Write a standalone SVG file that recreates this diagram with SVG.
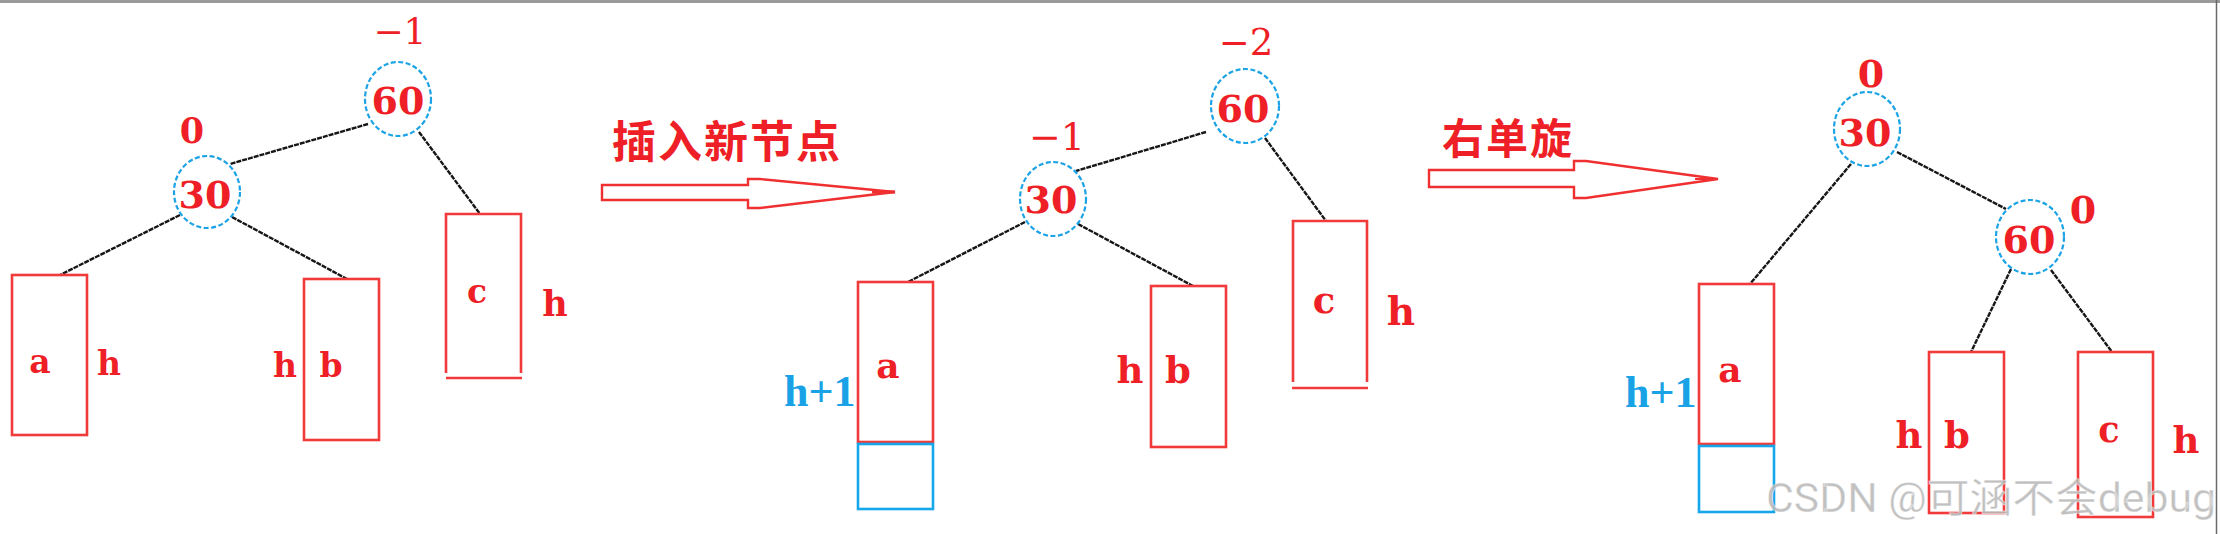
<svg xmlns="http://www.w3.org/2000/svg" width="2220" height="534" viewBox="0 0 2220 534">
<style>
.bg{fill:#ffffff}
.border{stroke:#9a9a9a;stroke-width:3;fill:none}
.ell{fill:none;stroke:#1ba3e6;stroke-width:2.2;stroke-dasharray:5 2.5}
.box{fill:none;stroke:#f23a3a;stroke-width:2.6}
.bbox{fill:none;stroke:#16a6ea;stroke-width:2.6}
.edge{stroke:#161616;stroke-width:2.4;stroke-dasharray:5 1;fill:none}
.num{font-family:"DejaVu Serif","Liberation Serif",serif;font-weight:bold;fill:#ee1f26;text-anchor:middle}
.bf{font-family:"DejaVu Serif","Liberation Serif",serif;fill:#ee1f26;text-anchor:middle}
.lbl{font-family:"DejaVu Serif","Liberation Serif",serif;font-weight:bold;fill:#ee1f26;text-anchor:middle}
.blu{font-family:"Liberation Serif","DejaVu Serif",serif;font-weight:bold;fill:#19a2e6}
.cjk{font-family:"Noto Sans CJK SC","Noto Sans",sans-serif;font-weight:bold;fill:#ee1f26}
.arrow{fill:#ffffff;stroke:#f03030;stroke-width:2.4;stroke-linejoin:miter}
.wm{font-family:Roboto,"Noto Sans CJK SC",sans-serif;fill:#b9b9b9;fill-opacity:0.9;stroke:#ffffff;stroke-opacity:0.5;stroke-width:0.8}
</style>
<rect class="bg" x="0" y="0" width="2220" height="534"/>
<line class="border" x1="0" y1="1.5" x2="2220" y2="1.5"/>
<line x1="2216.5" y1="0" x2="2216.5" y2="534" stroke="#6a6a6a" stroke-width="1.5"/>

<g id="connectors">
  <line class="edge" x1="368" y1="124" x2="230" y2="164"/>
  <line class="edge" x1="180" y1="215" x2="60" y2="275"/>
  <line class="edge" x1="232" y1="217" x2="347" y2="279"/>
  <line class="edge" x1="419" y1="132" x2="480" y2="214"/>
  <line class="edge" x1="1206" y1="132" x2="1076" y2="171"/>
  <line class="edge" x1="1025" y1="222" x2="908" y2="282"/>
  <line class="edge" x1="1078" y1="224" x2="1193" y2="286"/>
  <line class="edge" x1="1265" y1="138" x2="1326" y2="221"/>
  <line class="edge" x1="1897" y1="152" x2="2006" y2="209"/>
  <line class="edge" x1="1851" y1="164" x2="1750" y2="284"/>
  <line class="edge" x1="2011" y1="269" x2="1971" y2="352"/>
  <line class="edge" x1="2051" y1="270" x2="2112" y2="352"/>
</g>

<!-- Tree 1 -->
<g id="t1-n60">
  <text class="bf" x="400" y="44" font-size="36">−1</text>
  <ellipse class="ell" cx="398" cy="99" rx="33" ry="37"/>
  <text class="num" x="398" y="114" font-size="38">60</text>
</g>
<g id="t1-n30">
  <text class="lbl" x="192" y="143" font-size="35">0</text>
  <ellipse class="ell" cx="207" cy="192" rx="33" ry="36"/>
  <text class="num" x="205" y="208" font-size="38">30</text>
</g>
<g id="t1-a">
  <rect class="box" x="12" y="275" width="75" height="160"/>
  <text class="lbl" x="40" y="373" font-size="33">a</text>
  <text class="lbl" x="109" y="375" font-size="33">h</text>
</g>
<g id="t1-b">
  <rect class="box" x="304" y="279" width="75" height="161"/>
  <text class="lbl" x="285" y="377" font-size="33">h</text>
  <text class="lbl" x="331" y="377" font-size="33">b</text>
</g>
<g id="t1-c">
  <path class="box" d="M446,373 V214 H521 V373"/>
  <line class="box" x1="446" y1="378" x2="522" y2="378"/>
  <text class="lbl" x="477" y="303" font-size="33">c</text>
  <text class="lbl" x="555" y="316" font-size="35">h</text>
</g>

<!-- Arrow 1 -->
<g id="arrow1">
  <text class="cjk" x="612" y="158" font-size="44" letter-spacing="2">插入新节点</text>
  <polygon class="arrow" points="602,185 748,185 748,179 760,179 895,192 760,208 748,208 748,200 602,200"/>
  <line x1="872" y1="192" x2="895" y2="192" stroke="#f03030" stroke-width="3"/>
</g>

<!-- Tree 2 -->
<g id="t2-n60">
  <text class="bf" x="1246" y="55" font-size="37">−2</text>
  <ellipse class="ell" cx="1245" cy="106" rx="34" ry="37"/>
  <text class="num" x="1243" y="122" font-size="38">60</text>
</g>
<g id="t2-n30">
  <text class="bf" x="1057" y="150" font-size="38">−1</text>
  <ellipse class="ell" cx="1053" cy="199" rx="33" ry="37"/>
  <text class="num" x="1051" y="213" font-size="38">30</text>
</g>
<g id="t2-a">
  <rect class="box" x="858" y="282" width="75" height="160"/>
  <rect class="bbox" x="858" y="444" width="75" height="65"/>
  <text class="lbl" x="888" y="378" font-size="36">a</text>
  <text class="blu" x="784" y="406" font-size="44">h+1</text>
</g>
<g id="t2-b">
  <rect class="box" x="1151" y="286" width="75" height="161"/>
  <text class="lbl" x="1130" y="383" font-size="37">h</text>
  <text class="lbl" x="1178" y="383" font-size="37">b</text>
</g>
<g id="t2-c">
  <path class="box" d="M1293,382 V221 H1367 V382"/>
  <line class="box" x1="1292" y1="388" x2="1368" y2="388"/>
  <text class="lbl" x="1324" y="313" font-size="37">c</text>
  <text class="lbl" x="1401" y="325" font-size="39">h</text>
</g>

<!-- Arrow 2 -->
<g id="arrow2">
  <text class="cjk" x="1442" y="154" font-size="42" letter-spacing="2">右单旋</text>
  <polygon class="arrow" points="1429,170 1574,170 1574,161 1586,161 1718,179 1586,198 1574,198 1574,187 1429,187"/>
  <line x1="1695" y1="179" x2="1718" y2="179" stroke="#f03030" stroke-width="2"/>
</g>

<!-- Tree 3 -->
<g id="t3-n30">
  <text class="lbl" x="1871" y="87" font-size="38">0</text>
  <ellipse class="ell" cx="1867" cy="129" rx="33" ry="37"/>
  <text class="num" x="1865" y="146" font-size="38">30</text>
</g>
<g id="t3-n60">
  <text class="lbl" x="2083" y="223" font-size="38">0</text>
  <ellipse class="ell" cx="2030" cy="237" rx="34" ry="37"/>
  <text class="num" x="2029" y="253" font-size="38">60</text>
</g>
<g id="t3-a">
  <rect class="box" x="1699" y="284" width="75" height="160"/>
  <rect class="bbox" x="1699" y="446" width="75" height="66"/>
  <text class="lbl" x="1730" y="382" font-size="36">a</text>
  <text class="blu" x="1625" y="407" font-size="44">h+1</text>
</g>
<g id="t3-b">
  <rect class="box" x="1929" y="352" width="75" height="161"/>
  <text class="lbl" x="1909" y="448" font-size="37">h</text>
  <text class="lbl" x="1957" y="448" font-size="37">b</text>
</g>
<g id="t3-c">
  <rect class="box" x="2078" y="352" width="75" height="165"/>
  <text class="lbl" x="2109" y="442" font-size="35">c</text>
  <text class="lbl" x="2186" y="453" font-size="37">h</text>
</g>

<text class="wm" x="1766" y="512" font-size="40" textLength="450" lengthAdjust="spacingAndGlyphs">CSDN @可涵不会debug</text>
</svg>
